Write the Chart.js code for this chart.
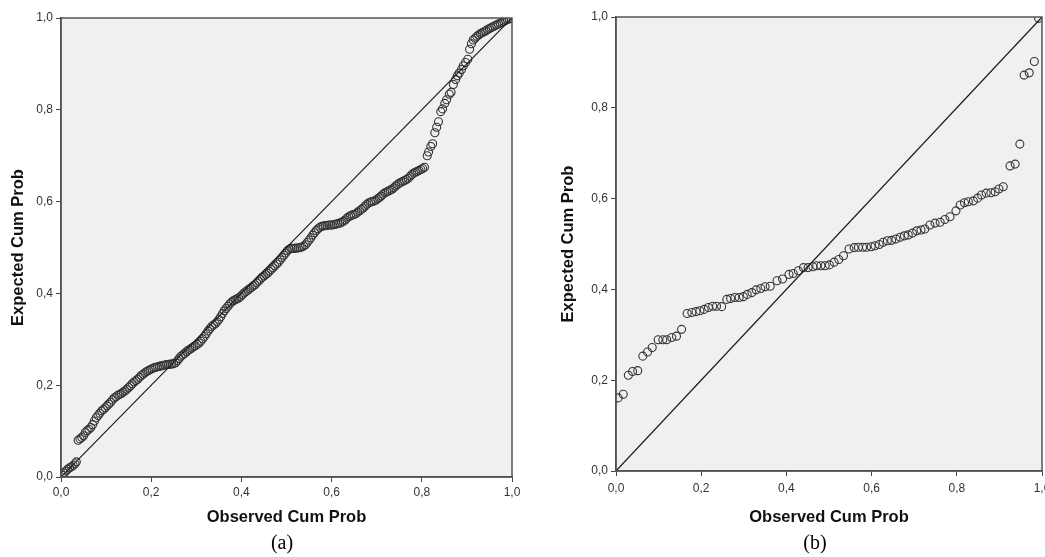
<!DOCTYPE html>
<html>
<head>
<meta charset="utf-8">
<script src="https://cdn.jsdelivr.net/npm/chart.js@4.4.0/dist/chart.umd.min.js"></script>
<style>
  html, body { margin: 0; padding: 0; background: #fff; overflow: hidden; width: 1045px; height: 557px; }
  .panel { position: absolute; top: 0; }
  .caption { position: absolute; top: 531px; font-family: "Liberation Serif", serif; font-size: 20px; color: #000; transform: translateX(-50%); white-space: nowrap; }
</style>
</head>
<body>
<div class="panel" style="left:0"><canvas id="chartA" width="530" height="557"></canvas></div>
<div class="panel" style="left:530px"><canvas id="chartB" width="530" height="557"></canvas></div>
<div class="caption" style="left:282px">(a)</div>
<div class="caption" style="left:815px">(b)</div>
<script>
// axis text
const tickLabels = ['0,0', '0,2', '0,4', '0,6', '0,8', '1,0'];
const xTitle = 'Observed Cum Prob';
const yTitle = 'Expected Cum Prob';
const diagonal = [0, 1];

// panel (a)
const observedA = [
    0.003, 0.007, 0.011, 0.015, 0.019, 0.023, 0.027, 0.031, 0.034, 0.038,
    0.042, 0.046, 0.050, 0.054, 0.058, 0.062, 0.066, 0.070, 0.074, 0.078,
    0.082, 0.086, 0.090, 0.094, 0.098, 0.102, 0.106, 0.110, 0.114, 0.118,
    0.122, 0.126, 0.130, 0.134, 0.138, 0.142, 0.146, 0.150, 0.154, 0.158,
    0.162, 0.166, 0.170, 0.174, 0.178, 0.182, 0.186, 0.190, 0.194, 0.198,
    0.202, 0.206, 0.210, 0.214, 0.218, 0.222, 0.226, 0.230, 0.234, 0.238,
    0.242, 0.246, 0.250, 0.254, 0.258, 0.262, 0.266, 0.270, 0.274, 0.278,
    0.282, 0.286, 0.290, 0.294, 0.298, 0.302, 0.306, 0.310, 0.314, 0.318,
    0.322, 0.326, 0.330, 0.334, 0.338, 0.342, 0.346, 0.350, 0.354, 0.358,
    0.362, 0.366, 0.370, 0.374, 0.378, 0.382, 0.386, 0.390, 0.394, 0.398,
    0.402, 0.406, 0.410, 0.414, 0.418, 0.422, 0.426, 0.430, 0.434, 0.438,
    0.442, 0.446, 0.450, 0.454, 0.458, 0.462, 0.466, 0.470, 0.474, 0.478,
    0.482, 0.486, 0.490, 0.494, 0.498, 0.502, 0.506, 0.510, 0.514, 0.518,
    0.522, 0.526, 0.530, 0.534, 0.538, 0.542, 0.546, 0.550, 0.554, 0.558,
    0.562, 0.566, 0.570, 0.574, 0.578, 0.582, 0.586, 0.590, 0.594, 0.598,
    0.602, 0.606, 0.610, 0.614, 0.618, 0.622, 0.626, 0.630, 0.634, 0.638,
    0.642, 0.646, 0.650, 0.654, 0.658, 0.662, 0.666, 0.670, 0.674, 0.678,
    0.682, 0.686, 0.690, 0.694, 0.698, 0.702, 0.706, 0.710, 0.714, 0.718,
    0.722, 0.726, 0.730, 0.734, 0.738, 0.742, 0.746, 0.750, 0.754, 0.758,
    0.762, 0.766, 0.770, 0.774, 0.778, 0.782, 0.786, 0.790, 0.794, 0.798,
    0.802, 0.806, 0.812, 0.815, 0.820, 0.824, 0.829, 0.833, 0.837, 0.842,
    0.846, 0.851, 0.855, 0.861, 0.865, 0.870, 0.875, 0.879, 0.883, 0.888,
    0.892, 0.897, 0.902, 0.906, 0.910, 0.914, 0.918, 0.922, 0.926, 0.930,
    0.934, 0.938, 0.942, 0.946, 0.950, 0.954, 0.958, 0.962, 0.966, 0.970,
    0.974, 0.978, 0.982, 0.986, 0.990, 0.994, 0.998
];
const expectedA = [
    0.004, 0.009, 0.013, 0.017, 0.020, 0.022, 0.025, 0.029, 0.033, 0.080,
    0.083, 0.086, 0.090, 0.097, 0.101, 0.104, 0.108, 0.114, 0.122, 0.129,
    0.134, 0.139, 0.144, 0.147, 0.151, 0.155, 0.159, 0.163, 0.168, 0.172,
    0.175, 0.178, 0.180, 0.182, 0.185, 0.188, 0.191, 0.195, 0.199, 0.203,
    0.207, 0.210, 0.213, 0.217, 0.221, 0.224, 0.227, 0.230, 0.232, 0.234,
    0.236, 0.238, 0.239, 0.240, 0.241, 0.242, 0.243, 0.244, 0.245, 0.245,
    0.246, 0.246, 0.247, 0.249, 0.253, 0.258, 0.263, 0.266, 0.269, 0.273,
    0.276, 0.278, 0.281, 0.284, 0.286, 0.289, 0.292, 0.296, 0.301, 0.306,
    0.312, 0.318, 0.323, 0.328, 0.331, 0.334, 0.338, 0.343, 0.349, 0.356,
    0.362, 0.367, 0.372, 0.377, 0.381, 0.384, 0.386, 0.388, 0.390, 0.393,
    0.397, 0.401, 0.404, 0.407, 0.410, 0.413, 0.416, 0.419, 0.423, 0.427,
    0.431, 0.435, 0.438, 0.441, 0.444, 0.448, 0.452, 0.456, 0.460, 0.464,
    0.468, 0.473, 0.478, 0.483, 0.488, 0.493, 0.496, 0.498, 0.498, 0.498,
    0.499, 0.499, 0.500, 0.501, 0.503, 0.506, 0.511, 0.516, 0.521, 0.527,
    0.532, 0.537, 0.541, 0.544, 0.546, 0.547, 0.548, 0.548, 0.549, 0.549,
    0.549, 0.550, 0.551, 0.552, 0.553, 0.555, 0.557, 0.560, 0.564, 0.567,
    0.569, 0.571, 0.572, 0.574, 0.577, 0.580, 0.583, 0.586, 0.590, 0.594,
    0.597, 0.599, 0.600, 0.601, 0.603, 0.606, 0.609, 0.612, 0.616, 0.619,
    0.621, 0.623, 0.625, 0.627, 0.630, 0.634, 0.637, 0.640, 0.642, 0.644,
    0.646, 0.648, 0.651, 0.655, 0.659, 0.662, 0.664, 0.666, 0.668, 0.670,
    0.672, 0.675, 0.700, 0.708, 0.720, 0.726, 0.750, 0.762, 0.774, 0.796,
    0.802, 0.814, 0.822, 0.834, 0.838, 0.855, 0.866, 0.874, 0.880, 0.888,
    0.896, 0.903, 0.910, 0.932, 0.944, 0.952, 0.956, 0.960, 0.963, 0.966,
    0.968, 0.970, 0.972, 0.975, 0.977, 0.979, 0.981, 0.983, 0.985, 0.987,
    0.989, 0.991, 0.993, 0.995, 0.997, 0.998, 0.999
];

// panel (b)
const observedB = [
    0.005, 0.017, 0.029, 0.039, 0.051, 0.063, 0.074, 0.085, 0.099, 0.110,
    0.119, 0.131, 0.142, 0.154, 0.167, 0.178, 0.188, 0.197, 0.207, 0.217,
    0.227, 0.236, 0.248, 0.260, 0.269, 0.279, 0.289, 0.299, 0.308, 0.319,
    0.329, 0.340, 0.350, 0.362, 0.378, 0.391, 0.406, 0.416, 0.428, 0.440,
    0.451, 0.462, 0.471, 0.481, 0.491, 0.501, 0.512, 0.523, 0.534, 0.547,
    0.559, 0.569, 0.579, 0.588, 0.599, 0.608, 0.618, 0.627, 0.637, 0.647,
    0.657, 0.667, 0.677, 0.686, 0.696, 0.706, 0.716, 0.725, 0.737, 0.749,
    0.761, 0.772, 0.784, 0.798, 0.808, 0.818, 0.827, 0.839, 0.849, 0.858,
    0.869, 0.880, 0.890, 0.899, 0.909, 0.925, 0.937, 0.948, 0.958, 0.970,
    0.982, 0.992
];
const expectedB = [
    0.161, 0.169, 0.211, 0.219, 0.221, 0.253, 0.262, 0.272, 0.289, 0.289,
    0.289, 0.294, 0.297, 0.312, 0.347, 0.349, 0.351, 0.353, 0.356, 0.360,
    0.363, 0.363, 0.362, 0.378, 0.380, 0.382, 0.382, 0.384, 0.389, 0.393,
    0.399, 0.402, 0.406, 0.407, 0.419, 0.423, 0.433, 0.435, 0.441, 0.448,
    0.448, 0.450, 0.452, 0.452, 0.452, 0.454, 0.460, 0.466, 0.474, 0.489,
    0.492, 0.493, 0.493, 0.493, 0.494, 0.496, 0.499, 0.504, 0.507, 0.508,
    0.511, 0.515, 0.518, 0.520, 0.524, 0.529, 0.531, 0.533, 0.542, 0.546,
    0.548, 0.554, 0.560, 0.573, 0.586, 0.591, 0.593, 0.595, 0.601, 0.608,
    0.612, 0.613, 0.615, 0.621, 0.626, 0.672, 0.676, 0.720, 0.872, 0.877,
    0.902, 0.997
];

// grey plot background + frame round the plot area
const plotFrame = {
    id: 'plotFrame',
    beforeDraw(chart) {
        const {ctx, chartArea: a} = chart;
        ctx.save();
        ctx.fillStyle = '#f0f0f0';
        ctx.fillRect(a.left, a.top, a.right - a.left, a.bottom - a.top);
        ctx.restore();
    },
    afterDraw(chart) {
        const {ctx, chartArea: a} = chart;
        ctx.save();
        ctx.strokeStyle = '#555';
        ctx.lineWidth = 1.5;
        ctx.strokeRect(a.left, a.top, a.right - a.left, a.bottom - a.top);
        ctx.restore();
    }
};

const makeAxis = (isX, size, tickPad, titlePad) => ({
    type: 'linear',
    min: 0,
    max: 1,
    afterFit: (scale) => {
        if (isX) scale.height = size; else scale.width = size;
    },
    ticks: {
        stepSize: 0.2,
        autoSkip: false,
        maxRotation: 0,
        padding: tickPad,
        color: '#333',
        font: {family: 'Liberation Sans', size: 12},
        callback: (value, index) => tickLabels[index],
    },
    grid: {
        drawOnChartArea: false,
        drawTicks: true,
        tickLength: 5,
        tickColor: '#444',
    },
    border: {color: '#444', width: 1.5},
    title: {
        display: true,
        text: isX ? xTitle : yTitle,
        color: '#111',
        font: {family: 'Liberation Sans', size: 16.5, weight: 'bold'},
        padding: titlePad,
    },
});

const makePanel = (canvasId, observed, expected, layout) => {
    const points = observed.map((x, i) => ({x: x, y: expected[i]}));
    const line = diagonal.map((v) => ({x: v, y: v}));
    return new Chart(document.getElementById(canvasId), {
        type: 'scatter',
        data: {
            datasets: [
                {
                    data: line,
                    showLine: true,
                    borderColor: '#1a1a1a',
                    borderWidth: 1.2,
                    pointRadius: 0,
                },
                {
                    data: points,
                    pointStyle: 'circle',
                    pointRadius: 4,
                    pointBorderWidth: 1.1,
                    borderColor: '#333',
                    backgroundColor: 'rgba(0,0,0,0)',
                    pointHoverRadius: 4,
                },
            ],
        },
        options: {
            responsive: false,
            animation: false,
            events: [],
            layout: {padding: {left: 0, right: 18, top: layout.top, bottom: 24}},
            scales: {
                x: makeAxis(true, layout.xHeight, layout.xTickPad, {top: 0, bottom: 6}),
                y: makeAxis(false, layout.yWidth, 3, {top: layout.yTitlePad, bottom: 0}),
            },
            plugins: {
                legend: {display: false},
                tooltip: {enabled: false},
                title: {display: false},
            },
        },
        plugins: [plotFrame],
    });
};

makePanel('chartA', observedA, expectedA, {top: 18, xHeight: 56, xTickPad: 3, yWidth: 61, yTitlePad: 9});
makePanel('chartB', observedB, expectedB, {top: 17, xHeight: 62, xTickPad: 5, yWidth: 86, yTitlePad: 29});
</script>
</body>
</html>
